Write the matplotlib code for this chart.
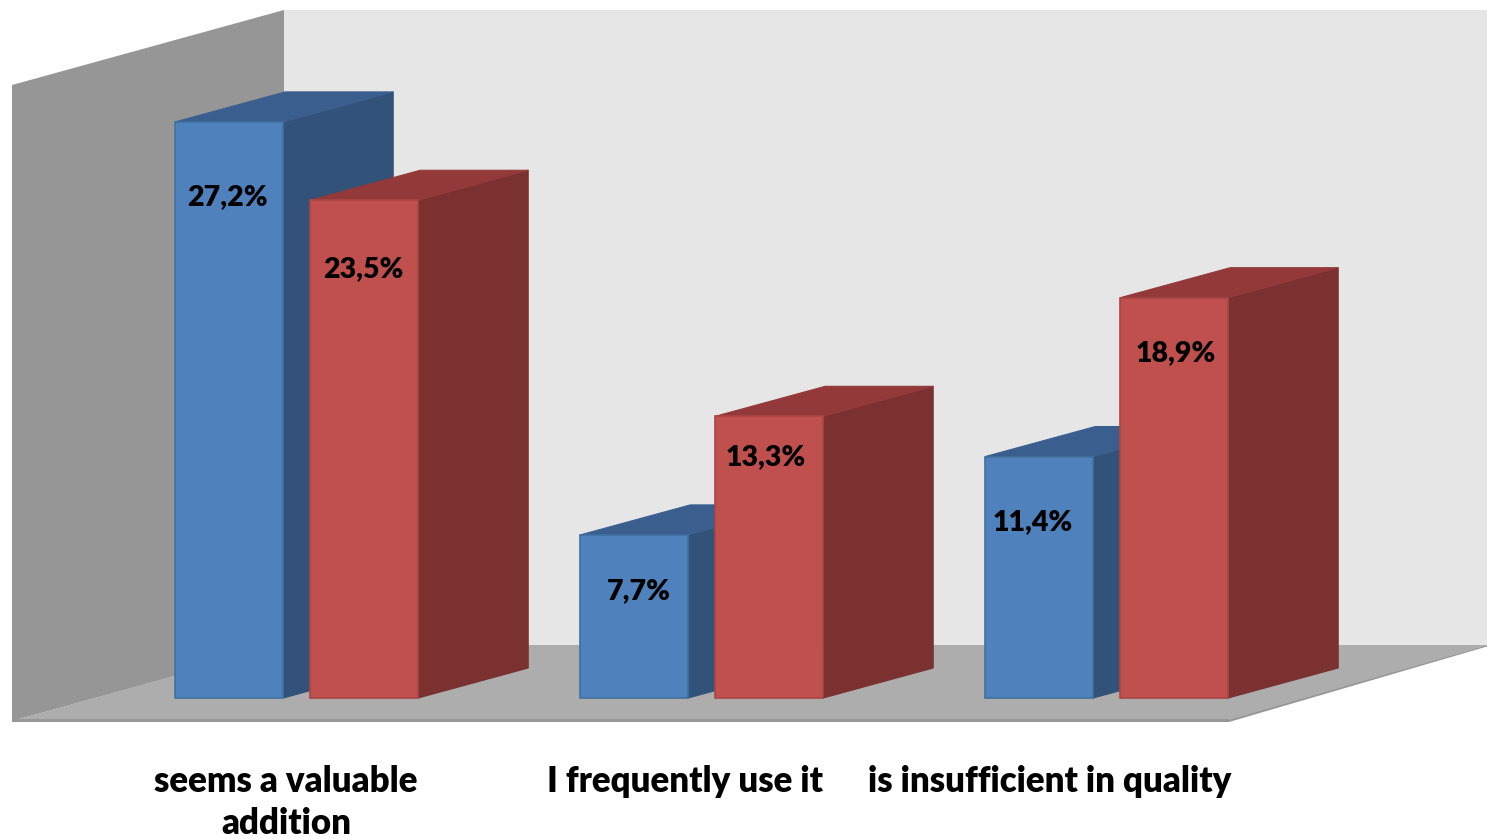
import matplotlib
matplotlib.use('Agg')
import matplotlib.pyplot as plt

categories = ['seems a valuable\naddition', 'I frequently use it', 'is insufficient in quality']
blue_values = [27.2, 7.7, 11.4]
red_values = [23.5, 13.3, 18.9]
blue_labels = ['27,2%', '7,7%', '11,4%']
red_labels = ['23,5%', '13,3%', '18,9%']

W, H = 1487, 839
PX_PER_X = 405.0      # one category step in pixels
PX_PER_Y = 21.18      # one percentage point in pixels
X0_PX = 296.7         # x pixel of first category centre
Y0_PX = 698.0         # y pixel of value 0
BAR_W = 108 / PX_PER_X
BAR_STEP = 135 / PX_PER_X
DX = 110 / PX_PER_X   # depth of the fake 3d
DY = 30 / PX_PER_Y


def px(x, y):
    return (x - X0_PX) / PX_PER_X, (Y0_PX - y) / PX_PER_Y


def poly(ax, points, color, z):
    pts = [px(a, b) for a, b in points]
    ax.fill([p[0] for p in pts], [p[1] for p in pts], color=color, lw=0, zorder=z)


def bar3d(ax, x, value, front, top, side, edge, z):
    left = x - BAR_W / 2
    right = x + BAR_W / 2
    ax.fill([right, right + DX, right + DX, right], [0, DY, value + DY, value],
            color=side, lw=0.8, ec=side, zorder=z)
    ax.fill([left, right, right + DX, left + DX], [value, value, value + DY, value + DY],
            color=top, lw=0.8, ec=top, zorder=z)
    ax.bar(x, value, BAR_W, color=front, edgecolor=edge, linewidth=1.2, zorder=z + 0.1)


fig = plt.figure(figsize=(W / 100, H / 100), dpi=100, facecolor='white')
ax = fig.add_axes([0, 0, 1, 1])
ax.set_xlim(-X0_PX / PX_PER_X, (W - X0_PX) / PX_PER_X)
ax.set_ylim((Y0_PX - H) / PX_PER_Y, Y0_PX / PX_PER_Y)
ax.axis('off')

# walls and floor
poly(ax, [(284, 10), (1487, 10), (1487, 646), (284, 646)], '#e6e6e6', 1)
poly(ax, [(12, 85), (284, 10), (284, 646), (12, 721)], '#969696', 1)
poly(ax, [(12, 721), (284, 645), (1487, 645), (1229, 721)], '#adadad', 1.1)
poly(ax, [(12, 719), (1229, 719), (1229, 722), (12, 722)], '#979797', 1.2)
poly(ax, [(1229, 720), (1487, 645), (1487, 646.5), (1229, 722)], '#979797', 1.2)

# bars, back to front inside each group
for i in range(len(categories)):
    xb = i - BAR_STEP / 2
    xr = i + BAR_STEP / 2
    bar3d(ax, xb, blue_values[i], '#4f81bd', '#3a5f8e', '#32527a', '#41719f', 2 + i)
    bar3d(ax, xr, red_values[i], '#c0504d', '#93393a', '#7a3130', '#a84643', 2.5 + i)

# value labels, offsets from the bar top / left in pixels
blue_off = [(52, 75), (59, 56), (48, 66)]
red_off = [(53, 69), (51, 41), (55.5, 55)]
for i in range(len(categories)):
    xb = i - BAR_STEP / 2 - BAR_W / 2
    xr = i + BAR_STEP / 2 - BAR_W / 2
    ax.text(xb + blue_off[i][0] / PX_PER_X, blue_values[i] - blue_off[i][1] / PX_PER_Y, blue_labels[i],
            ha='center', va='center', family='Lato', weight='heavy', size=20.5, color='black', zorder=10)
    ax.text(xr + red_off[i][0] / PX_PER_X, red_values[i] - red_off[i][1] / PX_PER_Y, red_labels[i],
            ha='center', va='center', family='Lato', weight='heavy', size=20.5, color='black', zorder=10)

# category labels
cat_x = [286, 685, 1050]
for name, cx in zip(categories, cat_x):
    x, y = px(cx, 765)
    ax.text(x, y, name, ha='center', va='top', family='Lato', weight='heavy', size=25,
            color='black', linespacing=1.32, zorder=10)

fig.savefig('out.png', dpi=100)
